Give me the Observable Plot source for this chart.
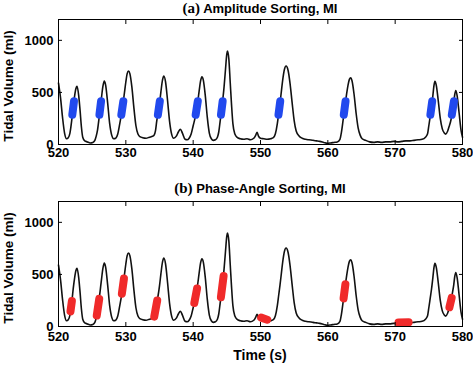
<!DOCTYPE html>
<html><head><meta charset="utf-8">
<script src="https://cdn.jsdelivr.net/npm/d3@7"></script>
<script src="https://cdn.jsdelivr.net/npm/@observablehq/plot@0.6"></script>
<style>
body{margin:0;background:#fff;}
#wrap{position:relative;width:473px;height:365px;font-family:"Liberation Sans",Arial,sans-serif;color:#000;}
.title{position:absolute;left:58px;width:404px;text-align:center;font-weight:bold;font-size:13px;line-height:13px;white-space:nowrap;z-index:2;}
.title .p{font-family:"Liberation Serif","Times New Roman",serif;font-size:15px;line-height:13px;}
.panel{position:absolute;left:0;z-index:1;}
.xlab{position:absolute;left:58px;width:404px;text-align:center;font-weight:bold;font-size:14px;line-height:14px;z-index:2;}
</style></head><body>
<div id="wrap">
  <div class="panel" id="pa" style="top:0px"></div>
  <div class="panel" id="pb" style="top:182px"></div>
  <div class="title" style="top:2px"><span class="p">(a)</span> Amplitude Sorting, MI</div>
  <div class="title" style="top:182px"><span class="p">(b)</span> Phase-Angle Sorting, MI</div>
  <div class="xlab" style="top:348px">Time (s)</div>
</div>
<script>
// Tidal volume trace (time in s, volume in ml)
const time = [520.0,520.3,520.6,520.9,521.2,521.45,521.7,522.0,522.2,522.4,522.6,522.75,523.0,523.2,523.4,523.6,523.9,524.3,524.7,525.1,525.4,
  525.6,525.8,526.0,526.2,526.4,526.6,526.8,527.0,527.3,527.6,527.9,528.2,528.5,528.8,529.1,529.4,529.6,529.8,530.0,530.2,530.4,530.6,530.9,531.2,531.5,531.8,532.1,532.5,533.0,533.5,534.0,
  534.2,534.4,534.6,534.8,535.0,535.2,535.45,535.65,535.9,536.2,536.5,536.8,537.1,537.5,537.8,538.1,538.4,538.8,539.1,539.4,
  539.7,540.0,540.3,540.5,540.7,540.9,541.1,541.3,541.5,541.8,542.1,542.4,542.7,543.0,543.3,543.6,
  543.8,544.0,544.2,544.4,544.6,544.8,545.0,545.1,545.3,545.5,545.7,545.9,546.2,546.5,547.0,547.5,548.0,548.5,549.0,549.3,549.5,549.7,550.0,550.5,551.0,551.5,551.9,
  552.2,552.5,552.7,552.9,553.1,553.3,553.55,553.8,554.1,554.4,554.7,555.0,555.3,555.7,556.2,556.7,557.2,557.8,558.3,558.8,559.4,559.9,560.4,560.9,561.4,561.8,
  562.0,562.2,562.4,562.6,562.8,563.0,563.2,563.4,563.6,563.9,564.2,564.5,564.8,565.1,565.6,566.2,566.8,567.4,568.0,568.6,569.2,569.8,570.4,571.0,571.6,572.2,572.8,573.4,574.0,574.5,
  574.8,575.0,575.2,575.4,575.6,575.75,575.9,576.1,576.4,576.7,577.0,577.3,577.5,577.8,578.0,578.3,578.5,578.7,578.85,579.0,579.2,579.5,579.8,580.0];
const volume = [590,450,260,110,55,65,110,250,370,470,540,558,470,330,170,70,35,25,15,20,40,
  80,140,240,350,460,560,608,570,400,200,90,55,60,100,200,310,400,500,600,680,705,680,550,350,180,100,75,65,60,70,80,
  90,130,230,300,390,500,620,657,600,420,220,100,60,80,120,147,110,50,45,60,
  100,180,260,330,420,520,610,650,620,470,260,110,55,40,45,70,
  120,220,320,430,560,720,870,897,820,600,380,200,100,70,55,50,55,45,60,90,118,80,60,55,50,55,65,
  100,200,300,400,510,620,720,753,710,580,400,230,130,85,60,50,45,40,35,30,20,12,15,20,25,50,
  110,200,300,400,490,570,625,641,610,480,300,160,90,55,40,25,20,25,20,25,25,30,25,30,35,35,40,45,50,70,
  100,180,270,360,470,560,606,570,420,250,150,110,100,130,170,240,320,400,480,519,470,300,130,70];

// (a) amplitude-sorted bins
const ampT0 = [522.05,526.08,529.33,534.76,540.37,544.13,552.67,562.37,575.23,578.41];
const ampV0 = [285,285,285,285,285,285,285,285,285,285];
const ampT1 = [522.30,526.32,529.63,535.05,540.69,544.38,552.93,562.63,575.50,578.73];
const ampV1 = [416,416,416,416,416,416,416,416,416,416];

// (b) phase-angle-sorted bins
const phT0 = [521.78,525.68,529.41,534.22,540.17,544.12,550.1,562.34,570.5,578.06];
const phV0 = [145,105,315,95,225,280,85,270,38,185];
const phT1 = [521.99,526.05,529.72,534.66,540.58,544.52,551.0,562.61,572.0,578.39];
const phV1 = [245,265,460,250,365,485,65,405,40,275];

const xTicks = [520,530,540,550,560,570,580];
const yTicks = [0,500,1000];
const yLabel = "Tidal Volume (ml)";

const trace = time.map((t,i)=>({t, v: volume[i]}));
function segs(t0,v0,t1,v1){
  const out=[];
  t0.forEach((_,i)=>{out.push({id:i,t:t0[i],v:v0[i]});out.push({id:i,t:t1[i],v:v1[i]});});
  return out;
}

function panel(segData, color, pad){
  return Plot.plot({
    width:473, height:165,
    marginLeft:58, marginRight:11, marginTop:19, marginBottom:21,
    style:{fontFamily:'"Liberation Sans", Arial, sans-serif', background:"transparent", color:"black", overflow:"visible"},
    x:{domain:[520,580]},
    y:{domain:[0,1200]},
    marks:[
      Plot.line(trace,{x:"t",y:"v",stroke:"#111",strokeWidth:1.6,curve:"monotone-x"}),
      Plot.line(segData,{x:"t",y:"v",z:"id",stroke:color,strokeWidth:8,strokeLinecap:"round"}),
      Plot.frame({stroke:"black",strokeWidth:1}),
      Plot.axisX(xTicks,{anchor:"bottom",tickSize:-4,fill:"none",label:null}),
      Plot.axisX(xTicks,{anchor:"top",tickSize:-4,fill:"none",label:null}),
      Plot.axisY(yTicks,{anchor:"left",tickSize:-4,fill:"none",label:null}),
      Plot.axisY(yTicks,{anchor:"right",tickSize:-4,fill:"none",label:null}),
      Plot.axisX(xTicks,{anchor:"bottom",tickSize:0,tickPadding:pad,fontSize:13,fontWeight:"bold",label:null,tickFormat:d=>String(d)}),
      Plot.axisY(yTicks,{anchor:"left",tickSize:0,tickPadding:5,fontSize:13,fontWeight:"bold",label:null,tickFormat:d=>String(d)}),
      Plot.text([yLabel],{text:d=>d,frameAnchor:"left",textAnchor:"middle",lineAnchor:"middle",rotate:-90,dx:-50,dy:4,fontSize:13.5,fontWeight:"bold"})
    ]
  });
}

document.getElementById("pa").appendChild(panel(segs(ampT0,ampV0,ampT1,ampV1),"#2149ee",3));
document.getElementById("pb").appendChild(panel(segs(phT0,phV0,phT1,phV1),"#f02a2a",5));
</script>
</body></html>
